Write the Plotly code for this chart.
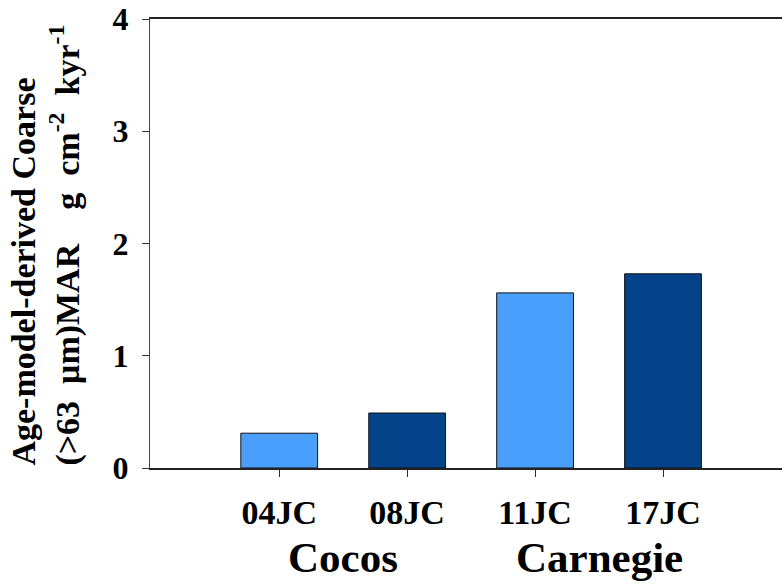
import plotly.graph_objects as go

cores = ["04JC", "08JC", "11JC", "17JC"]
positions = [1, 2, 3, 4]
mar_values = [0.31, 0.49, 1.56, 1.73]
bar_colors = ["#4a9efc", "#04428a", "#4a9efc", "#04428a"]
groups = ["Cocos", "Carnegie"]
group_centers = [1.5, 3.5]
y_ticks = [0, 1, 2, 3, 4]

FONT = "Liberation Serif"

fig = go.Figure()
fig.add_trace(go.Bar(
    x=positions, y=mar_values, width=0.6,
    marker=dict(color=bar_colors, line=dict(color="#111111", width=1)),
    showlegend=False,
))

fig.update_layout(
    width=782, height=584,
    margin=dict(l=150, r=0, t=19, b=116),
    paper_bgcolor="white", plot_bgcolor="white",
    font=dict(family=FONT, color="#000000"),
)

fig.update_xaxes(
    range=[-0.01, 4.93],
    tickmode="array", tickvals=positions, ticktext=cores,
    ticks="outside", ticklen=7, tickwidth=1, tickcolor="#333333",
    showline=True, linewidth=2, linecolor="#222222", mirror=True,
    showgrid=False, zeroline=False,
    tickfont=dict(family=FONT, size=34, weight="bold", color="#000000"),
    ticklabelstandoff=6,
)
fig.update_yaxes(
    range=[0, 4],
    tickmode="array", tickvals=y_ticks, ticktext=[str(v) for v in y_ticks],
    ticks="outside", ticklen=7, tickwidth=1, tickcolor="#333333",
    showline=True, linewidth=1, linecolor="#444444",
    showgrid=False, zeroline=False,
    tickfont=dict(family=FONT, size=32, weight="bold", color="#000000"),
    ticklabelstandoff=7,
)

for name, xc in zip(groups, group_centers):
    fig.add_annotation(
        x=xc, xref="x", y=-0.2, yref="paper",
        text=name, showarrow=False, xanchor="center", yanchor="middle",
        font=dict(family=FONT, size=43, weight="bold", color="#000000"),
    )

nb = "\u00a0"
title_text = ("Age-model-derived Coarse<br>"
              f"(>63{nb}{nb}μm)MAR{nb}{nb}{nb}{nb}g{nb}{nb}cm<sup>-2</sup>{nb}{nb}kyr<sup>-1</sup>")
fig.add_annotation(
    x=-0.166, xref="paper", y=0.0, yref="paper",
    text=title_text, showarrow=False, textangle=-90, align="left",
    xanchor="center", yanchor="bottom",
    font=dict(family=FONT, size=34, weight="bold", color="#000000"),
)

fig.write_html("out.html")
